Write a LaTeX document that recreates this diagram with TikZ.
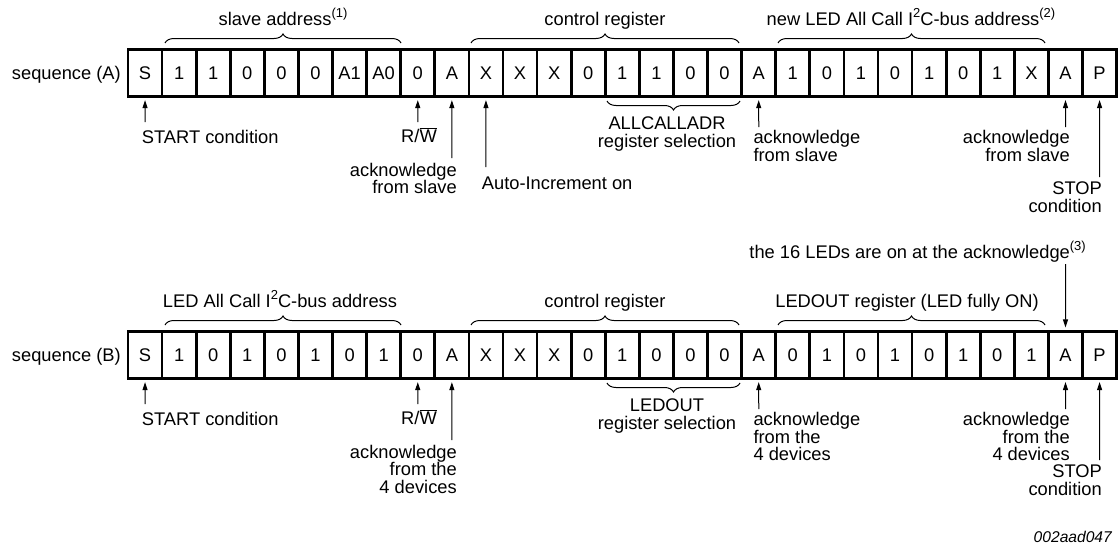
\documentclass[tikz,border=0pt]{standalone}
\usepackage{fontspec}
\setmainfont{Liberation Sans}
\usetikzlibrary{arrows.meta,decorations.pathreplacing,calc}
\newcommand\sups[1]{\raisebox{0.42em}{\fontsize{13}{13}\selectfont #1}}
\begin{document}
\begin{tikzpicture}[x=1pt,y=-1pt,
  font=\fontsize{18.3}{17.7}\selectfont,
  cell/.style={draw, line width=2.7pt, minimum width=34.09pt, minimum height=47pt, inner sep=0pt},
  brc/.style={decorate, decoration={brace, amplitude=9pt}, line width=1pt},
  brcm/.style={decorate, decoration={brace, amplitude=9pt, mirror}, line width=1pt},
  arr/.style={-{Triangle[length=8pt,width=5pt]}, line width=1pt, shorten >=2.5pt},
  lbl/.style={inner sep=0pt}]
\useasboundingbox (0,0) rectangle (1119,554);
% ---------- sequence A ----------
\foreach \t [count=\i from 0] in {S,1,1,0,0,0,A1,A0,0,A,X,X,X,0,1,1,0,0,A,1,0,1,0,1,0,1,X,A,P}
  \node[cell] (a\i) at ({128+34.09*(\i+0.5)},72.75) {\t};
\node[lbl, anchor=base east] (seqA) at (121,79.5) {sequence (A)};
\node[lbl, anchor=base] (slaveA) at (283,25) {slave address\sups{(1)}};
\node[lbl, anchor=base] (ctrlA) at (605,25) {control register};
\node[lbl, anchor=base] (newA) at (911,25) {new LED All Call I\sups{2}C-bus address\sups{(2)}};
\draw[brc] (165,43) -- (401,43);
\draw[brc] (471,43) -- (739,43);
\draw[brc] (778,43) -- (1045,43);
\draw[brcm] (607,101) -- (740,101);
\node[lbl, anchor=north, align=center] (selA) at (667,117) {ALLCALLADR\\register selection};
\node[lbl, anchor=north west] (startA) at (141.7,129.8) {START condition};
\node[lbl, anchor=base] (rwA) at (419,142) {R/$\overline{\hbox{W}}$};
\node[lbl, anchor=north east, align=right] (ack9A) at (457,162.8) {acknowledge\\from slave};
\node[lbl, anchor=base west] (autoA) at (481.7,189) {Auto-Increment on};
\node[lbl, anchor=north west, align=left] (ack18A) at (753.3,130) {acknowledge\\from slave};
\node[lbl, anchor=north east, align=right] (ack27A) at (1070,130) {acknowledge\\from slave};
\node[lbl, anchor=north east, align=right] (stopA) at (1102,181.8) {STOP\\condition};
\coordinate (cSA) at (145.05,122);
\coordinate (cRA) at (417.77,122);
\coordinate (c9A) at (451.86,158);
\coordinate (c10A) at (485.95,167);
\coordinate (c18A) at (758.76,127);
\coordinate (c27A) at (1065.57,127);
\coordinate (c28A) at (1099.66,177);
\draw[arr] (cSA) -- (a0.south);
\draw[arr] (cRA) -- (a8.south);
\draw[arr] (c9A) -- (a9.south);
\draw[arr] (c10A) -- (a10.south);
\draw[arr] (c18A) -- (a18.south);
\draw[arr] (c27A) -- (a27.south);
\draw[arr] (c28A) -- (a28.south);
% ---------- sequence B ----------
\foreach \t [count=\i from 0] in {S,1,0,1,0,1,0,1,0,A,X,X,X,0,1,0,0,0,A,0,1,0,1,0,1,0,1,A,P}
  \node[cell] (b\i) at ({128+34.09*(\i+0.5)},354.75) {\t};
\node[lbl, anchor=base east] (seqB) at (121,361.5) {sequence (B)};
\node[lbl, anchor=base] (ledB) at (280,307) {LED All Call I\sups{2}C-bus address};
\node[lbl, anchor=base] (ctrlB) at (605,307) {control register};
\node[lbl, anchor=base] (outB) at (907,307) {LEDOUT register (LED fully ON)};
\node[lbl, anchor=base east] (noteB) at (1086,258) {the 16 LEDs are on at the acknowledge\sups{(3)}};
\draw[brc] (165,325) -- (401,325);
\draw[brc] (471,325) -- (739,325);
\draw[brc] (778,325) -- (1045,325);
\draw[brcm] (607,383) -- (740,383);
\node[lbl, anchor=north, align=center] (selB) at (667,399) {LEDOUT\\register selection};
\node[lbl, anchor=north west] (startB) at (141.7,411.8) {START condition};
\node[lbl, anchor=base] (rwB) at (419,424) {R/$\overline{\hbox{W}}$};
\node[lbl, anchor=north east, align=right] (ack9B) at (457,444.8) {acknowledge\\from the\\4 devices};
\node[lbl, anchor=north west, align=left] (ack18B) at (753.3,412) {acknowledge\\from the\\4 devices};
\node[lbl, anchor=north east, align=right] (ack27B) at (1070,412) {acknowledge\\from the\\4 devices};
\node[lbl, anchor=north east, align=right] (stopB) at (1102,465) {STOP\\condition};
\coordinate (cSB) at (145.05,404);
\coordinate (cRB) at (417.77,404);
\coordinate (c9B) at (451.86,440);
\coordinate (c18B) at (758.76,409);
\coordinate (c27B) at (1065.57,409);
\coordinate (c28B) at (1099.66,460);
\coordinate (cNB) at (1065.57,264);
\draw[arr] (cSB) -- (b0.south);
\draw[arr] (cRB) -- (b8.south);
\draw[arr] (c9B) -- (b9.south);
\draw[arr] (c18B) -- (b18.south);
\draw[arr] (c27B) -- (b27.south);
\draw[arr] (c28B) -- (b28.south);
\draw[arr] (cNB) -- (b27.north);
\node[lbl, anchor=base east, font=\fontsize{15.6}{15.6}\selectfont\itshape] (code) at (1112,542) {002aad047};
\end{tikzpicture}
\end{document}
